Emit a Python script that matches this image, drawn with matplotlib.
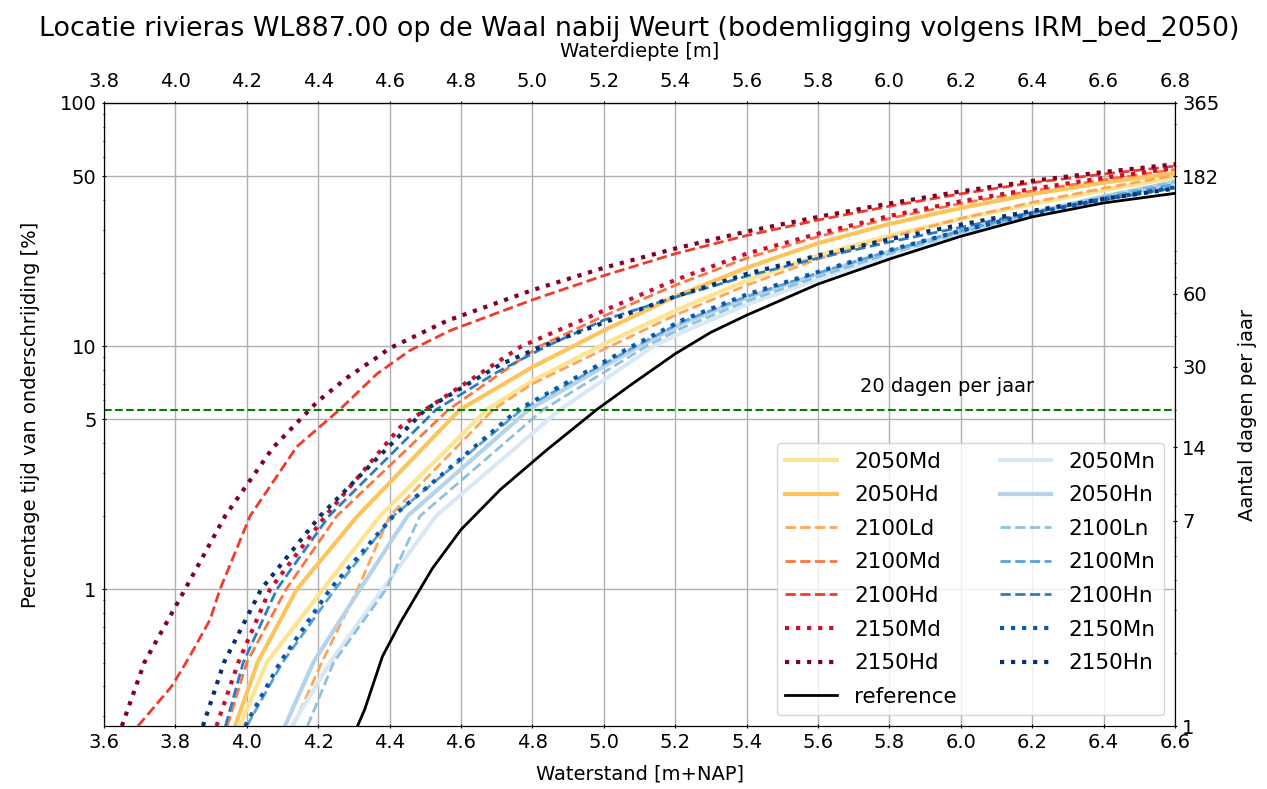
import numpy as np
import matplotlib
matplotlib.use('Agg')
import matplotlib.pyplot as plt
from matplotlib.ticker import NullFormatter, FixedLocator, FixedFormatter

# waterstand [m+NAP] vs percentage tijd onderschrijding [%]
ref_x = [4.31, 4.33, 4.38, 4.43, 4.485, 4.52, 4.60, 4.71, 4.84, 4.98, 5.08, 5.20, 5.30, 5.40, 5.60, 5.80, 6.00, 6.20, 6.40, 6.60]
ref_y = [0.274, 0.32, 0.53, 0.73, 1.0, 1.22, 1.76, 2.57, 3.74, 5.48, 7.0, 9.3, 11.4, 13.4, 18.0, 22.8, 28.3, 34.0, 38.8, 42.5]

x_2050Md = [3.98, 4.056, 4.213, 4.373, 4.672, 4.80, 5.00, 5.20, 5.40, 5.60, 5.80, 6.00, 6.20, 6.40, 6.60]
y_2050Md = [0.274, 0.5, 1.0, 2.0, 5.48, 7.2, 10.2, 14.0, 18.6, 23.6, 28.5, 33.4, 38.4, 43.8, 49.4]
x_2050Hd = [3.967, 4.03, 4.14, 4.31, 4.597, 4.80, 5.00, 5.20, 5.40, 5.60, 5.80, 6.00, 6.20, 6.40, 6.60]
y_2050Hd = [0.274, 0.5, 1.0, 2.0, 5.48, 8.2, 11.6, 16.0, 21.0, 26.5, 31.8, 37.0, 42.2, 47.0, 51.4]
x_2100Ld = [4.13, 4.21, 4.31, 4.40, 4.69, 4.80, 5.00, 5.20, 5.40, 5.60, 5.80, 6.00, 6.20, 6.40, 6.60]
y_2100Ld = [0.274, 0.5, 1.0, 2.0, 5.48, 7.0, 9.7, 13.4, 17.8, 22.8, 28.0, 33.5, 39.0, 44.6, 50.4]
x_2100Md = [3.945, 4.00, 4.11, 4.252, 4.565, 4.82, 5.00, 5.20, 5.40, 5.60, 5.80, 6.00, 6.20, 6.40, 6.60]
y_2100Md = [0.274, 0.5, 1.0, 2.0, 5.48, 10.0, 13.3, 17.8, 23.0, 28.2, 33.5, 38.6, 43.5, 48.3, 53.3]
x_2100Hd = [3.695, 3.776, 3.79, 3.84, 3.897, 3.925, 4.009, 4.14, 4.26, 4.365, 4.457, 4.57, 4.80, 5.00, 5.20,
            5.40, 5.60, 5.80, 6.00, 6.20, 6.40, 6.60]
y_2100Hd = [0.274, 0.378, 0.40, 0.53, 0.75, 1.0, 2.0, 3.86, 5.48, 7.7, 9.6, 11.6, 15.5, 19.5, 24.0,
            28.5, 33.0, 37.6, 42.3, 47.0, 51.0, 55.0]
x_2150Md = [3.915, 3.976, 4.065, 4.22, 4.43, 4.50, 4.77, 5.00, 5.20, 5.40, 5.60, 5.80, 6.00, 6.20, 6.40, 6.60]
y_2150Md = [0.274, 0.5, 1.0, 2.0, 4.65, 5.48, 10.0, 14.0, 18.7, 24.0, 29.0, 34.3, 39.4, 44.3, 49.2, 54.0]
x_2150Hd = [3.65, 3.713, 3.827, 3.939, 4.073, 4.197, 4.28, 4.365, 4.40, 4.466, 4.56, 4.80, 5.00, 5.20,
            5.40, 5.60, 5.80, 6.00, 6.20, 6.40, 6.60]
y_2150Hd = [0.274, 0.5, 1.0, 2.0, 3.82, 5.9, 7.4, 9.0, 9.8, 10.9, 12.7, 17.0, 21.0, 25.2,
            29.6, 34.0, 38.6, 43.3, 47.8, 52.0, 56.0]

x_2050Mn = [4.126, 4.233, 4.38, 4.53, 4.877, 5.14, 5.22, 5.40, 5.60, 5.80, 6.00, 6.20, 6.40, 6.60]
y_2050Mn = [0.274, 0.5, 1.0, 2.0, 5.48, 10.0, 11.4, 14.8, 18.8, 23.6, 28.8, 34.6, 40.5, 46.8]
x_2050Hn = [4.107, 4.186, 4.317, 4.45, 4.79, 5.10, 5.22, 5.40, 5.60, 5.80, 6.00, 6.20, 6.40, 6.60]
y_2050Hn = [0.274, 0.5, 1.0, 2.0, 5.48, 10.0, 12.4, 15.8, 19.8, 24.5, 29.8, 35.4, 41.3, 47.3]
x_2100Ln = [4.17, 4.243, 4.39, 4.485, 4.83, 5.12, 5.22, 5.40, 5.60, 5.80, 6.00, 6.20, 6.40, 6.60]
y_2100Ln = [0.274, 0.5, 1.0, 2.0, 5.48, 10.0, 11.9, 15.3, 19.3, 24.0, 29.3, 35.0, 41.2, 47.6]
x_2100Mn = [4.00, 4.10, 4.247, 4.41, 4.77, 5.09, 5.22, 5.40, 5.60, 5.80, 6.00, 6.20, 6.40, 6.60]
y_2100Mn = [0.274, 0.5, 1.0, 2.0, 5.48, 10.0, 12.6, 16.0, 20.0, 24.6, 29.8, 35.2, 40.8, 46.3]
x_2100Hn = [3.94, 3.99, 4.084, 4.23, 4.53, 4.70, 4.84, 5.00, 5.20, 5.40, 5.60, 5.80, 6.00, 6.20, 6.40, 6.60]
y_2100Hn = [0.274, 0.5, 1.0, 2.0, 5.48, 7.8, 10.0, 12.8, 15.9, 19.4, 23.0, 26.8, 30.8, 35.5, 40.0, 44.8]
x_2150Mn = [3.995, 4.093, 4.233, 4.41, 4.76, 5.08, 5.22, 5.40, 5.60, 5.80, 6.00, 6.20, 6.40, 6.60]
y_2150Mn = [0.274, 0.5, 1.0, 2.0, 5.48, 10.0, 12.8, 16.3, 20.2, 24.8, 29.8, 35.0, 40.2, 45.0]
x_2150Hn = [3.877, 3.936, 4.04, 4.205, 4.50, 4.71, 4.82, 5.00, 5.20, 5.40, 5.60, 5.80, 6.00, 6.20, 6.40, 6.60]
y_2150Hn = [0.274, 0.5, 1.0, 2.0, 5.48, 8.4, 9.9, 12.5, 16.0, 19.8, 23.6, 27.5, 31.6, 36.0, 40.3, 44.5]

bed_offset = 0.2          # waterdiepte = waterstand + offset
days_line = 20            # dagen per jaar
right_ticks = [1, 7, 14, 30, 60, 182, 365]
left_ticks = [1, 5, 10, 50, 100]

text_size = 14
plt.rcParams['font.family'] = 'DejaVu Sans'

fig = plt.figure(figsize=(12.67, 7.89), dpi=100)
ax = fig.add_axes([0.0821, 0.0798, 0.8453, 0.7897])

series = [
    (x_2050Md, y_2050Md, '2050Md', '#fee391', '-', 3.0),
    (x_2050Hd, y_2050Hd, '2050Hd', '#fec45c', '-', 3.0),
    (x_2100Ld, y_2100Ld, '2100Ld', '#fda65a', '--', 2.0),
    (x_2100Md, y_2100Md, '2100Md', '#fb7444', '--', 2.0),
    (x_2100Hd, y_2100Hd, '2100Hd', '#f03a2a', '--', 2.0),
    (x_2150Md, y_2150Md, '2150Md', '#c8102e', ':', 3.0),
    (x_2150Hd, y_2150Hd, '2150Hd', '#7f0028', ':', 3.0),
    (ref_x, ref_y, 'reference', 'black', '-', 2.0),
    (x_2050Mn, y_2050Mn, '2050Mn', '#dae8f5', '-', 3.0),
    (x_2050Hn, y_2050Hn, '2050Hn', '#b5d3ea', '-', 3.0),
    (x_2100Ln, y_2100Ln, '2100Ln', '#8ec1de', '--', 2.0),
    (x_2100Mn, y_2100Mn, '2100Mn', '#5ba3d3', '--', 2.0),
    (x_2100Hn, y_2100Hn, '2100Hn', '#2f7dbf', '--', 2.0),
    (x_2150Mn, y_2150Mn, '2150Mn', '#0b58a8', ':', 3.0),
    (x_2150Hn, y_2150Hn, '2150Hn', '#08306b', ':', 3.0),
]

handles = []
for xs, ys, lab, col, ls, lw in series:
    z = 3 if lab == 'reference' else 2
    h, = ax.plot(xs, ys, color=col, linestyle=ls, linewidth=lw, label=lab, zorder=z)
    handles.append(h)

ax.axhline(days_line / 365 * 100, color='green', linestyle='--', linewidth=1.5)
ax.text(5.718, 6.25, '%d dagen per jaar' % days_line, fontsize=text_size, va='bottom')

ax.set_yscale('log')
ax.set_xlim(3.6, 6.6)
ax.set_ylim(100 / 365, 100)
ax.set_xticks(np.round(np.arange(3.6, 6.61, 0.2), 1))
ax.yaxis.set_major_locator(FixedLocator(left_ticks))
ax.yaxis.set_major_formatter(FixedFormatter([str(t) for t in left_ticks]))
ax.yaxis.set_minor_formatter(NullFormatter())
ax.grid(True, which='major', color='#b0b0b0', linewidth=1)
ax.tick_params(direction='inout', labelsize=text_size)
ax.tick_params(which='minor', direction='inout')
ax.set_xlabel('Waterstand [m+NAP]', fontsize=text_size, labelpad=9)
ax.set_ylabel('Percentage tijd van onderschrijding [%]', fontsize=text_size, labelpad=14)

top = ax.secondary_xaxis('top', functions=(lambda x: x + bed_offset, lambda x: x - bed_offset))
top.set_xticks(np.round(np.arange(3.8, 6.81, 0.2), 1))
top.tick_params(direction='inout', labelsize=text_size, pad=7)
top.set_xlabel('Waterdiepte [m]', fontsize=text_size, labelpad=11)

ax2 = ax.twinx()
ax2.set_yscale('log')
ax2.set_ylim(1, 365)
ax2.yaxis.set_major_locator(FixedLocator(right_ticks))
ax2.yaxis.set_major_formatter(FixedFormatter([str(t) for t in right_ticks]))
ax2.yaxis.set_minor_formatter(NullFormatter())
ax2.tick_params(direction='inout', labelsize=text_size)
ax2.tick_params(which='minor', direction='inout')
ax2.set_ylabel('Aantal dagen per jaar', fontsize=text_size, labelpad=13)

ax.set_title('Locatie rivieras WL887.00 op de Waal nabij Weurt (bodemligging volgens IRM_bed_2050)',
             fontsize=19.4, pad=1)

ax2.legend(handles=handles, ncol=2, loc='lower right', fontsize=15.5,
           handlelength=2.4, columnspacing=2.0, labelspacing=0.63)

fig.savefig('out.png', dpi=100)
